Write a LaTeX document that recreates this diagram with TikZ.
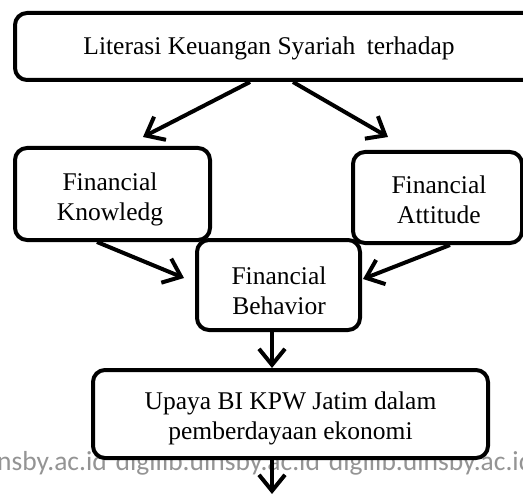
\documentclass[tikz,border=0pt]{standalone}
\usepackage{fontspec}
\setmainfont{Liberation Serif}
\newfontfamily\wmfont{Carlito}
\usetikzlibrary{arrows.meta}
\tikzset{
  box/.style={draw=black, line width=4pt, rounded corners=12pt, fill=white, inner sep=0pt},
  lbl/.style={align=center, inner sep=0pt, font=\fontsize{25.5}{30}\selectfont},
  conn/.style={line width=4pt, -{Straight Barb[length=16pt,width=26pt,line width=4pt]}},
  wm/.style={text=black!42, font=\wmfont\fontsize{27.5}{30}\selectfont, anchor=west, inner sep=0pt}
}
\begin{document}
\begin{tikzpicture}[x=1pt,y=-1pt]
\useasboundingbox (0,0) rectangle (523,495);
\clip (0,0) rectangle (523,495);
\node[wm] (wmark) at (-3,463) {nsby.ac.id\hspace{9pt}digilib.uinsby.ac.id\hspace{9pt}digilib.uinsby.ac.id};
\node[box, minimum width=525pt, minimum height=67pt] (top) at (277.5,46.5) {};
\node[lbl] (topT) at (269,48) {Literasi Keuangan Syariah\hspace{5pt} terhadap};
\node[box, minimum width=195pt, minimum height=92pt] (know) at (112.5,194) {};
\node[lbl] (knowT) at (110,199) {Financial\\Knowledg};
\node[box, minimum width=169pt, minimum height=91pt] (att) at (437.5,197.5) {};
\node[lbl] (attT) at (439,200) {Financial\\Attitude};
\node[box, minimum width=163pt, minimum height=90pt] (beh) at (278.5,285) {};
\node[lbl] (behT) at (279,291) {Financial\\Behavior};
\node[box, minimum width=395pt, minimum height=88pt] (up) at (290.5,414) {};
\node[lbl] (upT) at (290.5,418) {Upaya BI KPW Jatim dalam\\pemberdayaan ekonomi};
\coordinate (t1) at (143,137);
\coordinate (t2) at (388,137);
\coordinate (t3) at (184,278);
\coordinate (t4) at (363,279);
\coordinate (t5) at (272,368);
\coordinate (t6) at (272,494);
\draw[conn] ([xshift=-27.5pt]top.south) -- (t1);
\draw[conn] ([xshift=15.5pt]top.south) -- (t2);
\draw[conn] ([xshift=-15.5pt]know.south) -- (t3);
\draw[conn] ([xshift=12.5pt]att.south) -- (t4);
\draw[conn] ([xshift=-6.5pt]beh.south) -- (t5);
\draw[conn] ([xshift=-18.5pt]up.south) -- (t6);
\end{tikzpicture}
\end{document}
